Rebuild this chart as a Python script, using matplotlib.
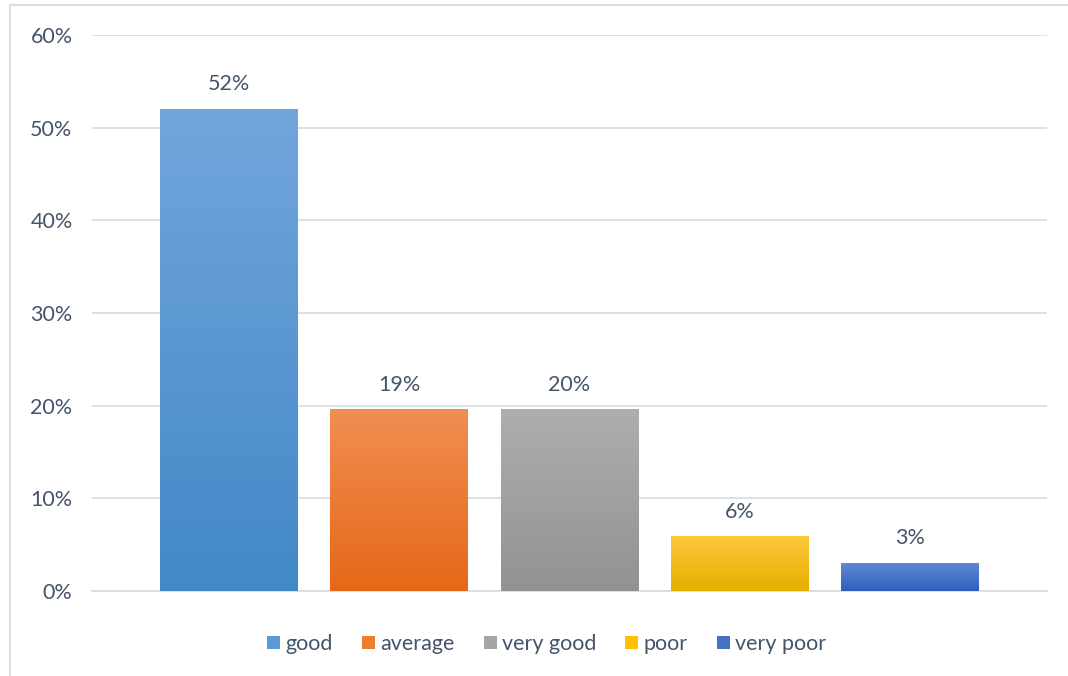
import numpy as np
import matplotlib
matplotlib.use("Agg")
import matplotlib.pyplot as plt
from matplotlib.colors import LinearSegmentedColormap
from matplotlib.patches import Rectangle, Patch

categories = ["good", "average", "very good", "poor", "very poor"]
values = [52.0, 19.6, 19.6, 5.9, 3.0]
labels = ["52%", "19%", "20%", "6%", "3%"]
top_colors = ["#72A6DC", "#F18E52", "#AEAEAE", "#FFC93C", "#6089D1"]
bottom_colors = ["#4288C7", "#E56818", "#929292", "#E5AE00", "#2F5FBD"]
legend_colors = ["#5B9BD5", "#ED7D31", "#A5A5A5", "#FFC000", "#4472C4"]
yticks = [0, 10, 20, 30, 40, 50, 60]

text_color = "#44546A"
plt.rcParams["font.family"] = ["Lato", "DejaVu Sans"]

fig = plt.figure(figsize=(10.68, 6.76), dpi=100)
ax = fig.add_axes([0.0861, 0.1257, 0.8942, 0.8225])

# chart frame
fig.patches.append(Rectangle((10 / 1068, -0.01), 1.1, 1 - 5 / 676 + 0.01,
                             transform=fig.transFigure, fill=False,
                             edgecolor="#D9DEE6", lw=1.5))

width = 0.81
x = np.arange(len(categories))
for i, v in enumerate(values):
    bar = ax.bar(x[i], v, width=width, color=legend_colors[i], zorder=2)[0]
    cmap = LinearSegmentedColormap.from_list("g%d" % i, [bottom_colors[i], top_colors[i]])
    grad = np.linspace(0, 1, 256).reshape(-1, 1)
    im = ax.imshow(grad, cmap=cmap, aspect="auto", origin="lower",
                   extent=[x[i] - width / 2, x[i] + width / 2, 0, v], zorder=3)
    im.set_clip_path(bar)
    ax.text(x[i], v + 1.6, labels[i], ha="center", va="bottom",
            fontsize=15.5, color=text_color)

ax.set_xlim(-0.805, 4.805)
ax.set_ylim(0, 60)
ax.set_yticks(yticks)
ax.set_yticklabels(["%d%%" % t for t in yticks], fontsize=15.5, color=text_color)
ax.set_xticks([])
ax.tick_params(axis="y", length=0, pad=14)
ax.grid(axis="y", color="#D9DEE6", lw=1.3, zorder=0)
ax.set_axisbelow(True)
for s in ["top", "right", "left"]:
    ax.spines[s].set_visible(False)
ax.spines["bottom"].set_color("#D9DEE6")
ax.spines["bottom"].set_linewidth(1.3)

handles = [Patch(facecolor=c) for c in legend_colors]
leg = fig.legend(handles, categories, loc="center", bbox_to_anchor=(0.512, 1 - 644 / 676),
                 ncol=5, frameon=False, fontsize=15.5, handlelength=0.6, handleheight=0.6,
                 handletextpad=0.25, columnspacing=1.35)
for t in leg.get_texts():
    t.set_color(text_color)

fig.savefig("out.png", dpi=100)
